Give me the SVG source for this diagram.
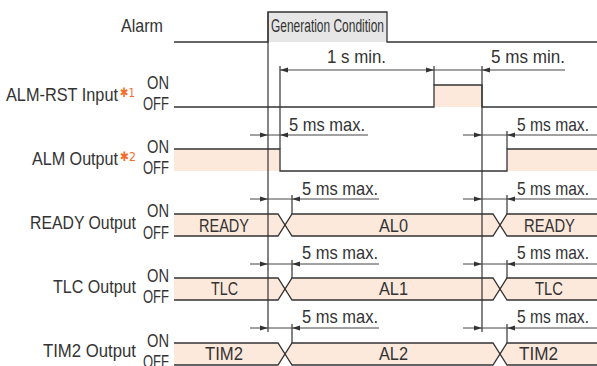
<svg xmlns="http://www.w3.org/2000/svg" width="597" height="366" viewBox="0 0 597 366">
<defs>
<path id="ar" d="M0,0 L-8,-2.4 L-8,2.4 Z" fill="#333"/>
<path id="al" d="M0,0 L8,-2.4 L8,2.4 Z" fill="#333"/>
</defs>
<style>
text{font-family:"Liberation Sans",Arial,"DejaVu Sans",sans-serif;font-size:19px;fill:#333}
.sig{fill:none;stroke:#333;stroke-width:1.3}
.pf{fill:#fde8dc;stroke:none}
.dim{stroke:#444;stroke-width:1;fill:none}
.ref{stroke:#333;stroke-width:1.2;fill:none}
.ast{fill:#f26d2a;font-size:13px;font-family:"DejaVu Sans","Liberation Sans",sans-serif}
</style>
<rect width="597" height="366" fill="#fff"/>

<g id="alarm">
<rect x="268" y="12" width="119" height="30" fill="#e6e6e6"/>
<path class="sig" d="M174,42 H268 V12 H387 V42 H597"/>
<text x="271" y="32" font-size="16" textLength="113" lengthAdjust="spacingAndGlyphs">Generation Condition</text>
<text x="121" y="32" textLength="42" lengthAdjust="spacingAndGlyphs">Alarm</text>
</g>

<g id="alm-rst">
<rect class="pf" x="434" y="85" width="48" height="22"/>
<path class="sig" d="M174,107 H434 V85 H482 V107 H597"/>
<text x="6" y="101" textLength="112" lengthAdjust="spacingAndGlyphs">ALM-RST Input</text>
<text class="ast" x="120" y="97" textLength="15" lengthAdjust="spacingAndGlyphs">✱1</text>
<text x="147" y="89" textLength="22" lengthAdjust="spacingAndGlyphs">ON</text>
<text x="143" y="110" textLength="26" lengthAdjust="spacingAndGlyphs">OFF</text>
</g>

<g id="alm-output">
<rect class="pf" x="174" y="149" width="106" height="22"/>
<rect class="pf" x="507" y="149" width="90" height="22"/>
<path class="sig" d="M174,149 H280 V171 H507 V149 H597"/>
<text x="32" y="165" textLength="86" lengthAdjust="spacingAndGlyphs">ALM Output</text>
<text class="ast" x="120" y="161" textLength="16" lengthAdjust="spacingAndGlyphs">✱2</text>
<text x="147" y="153" textLength="22" lengthAdjust="spacingAndGlyphs">ON</text>
<text x="143" y="174" textLength="26" lengthAdjust="spacingAndGlyphs">OFF</text>
</g>

<g id="ready-output">
<polygon class="pf" points="174,214 278,214 285,225 278,236 174,236"/>
<polygon class="pf" points="285,225 292,214 493,214 500,225 493,236 292,236"/>
<polygon class="pf" points="500,225 507,214 597,214 597,236 507,236"/>
<path class="sig" d="M174,214 H278 L292,236 H493 L507,214 H597"/>
<path class="sig" d="M174,236 H278 L292,214 H493 L507,236 H597"/>
<text x="30" y="229" textLength="106" lengthAdjust="spacingAndGlyphs">READY Output</text>
<text x="147" y="217" textLength="22" lengthAdjust="spacingAndGlyphs">ON</text>
<text x="143" y="239" textLength="26" lengthAdjust="spacingAndGlyphs">OFF</text>
<text x="199" y="232" textLength="50" lengthAdjust="spacingAndGlyphs">READY</text>
<text x="379" y="232" textLength="29" lengthAdjust="spacingAndGlyphs">AL0</text>
<text x="524" y="232" textLength="51" lengthAdjust="spacingAndGlyphs">READY</text>
</g>

<g id="tlc-output">
<polygon class="pf" points="174,278 278,278 285,289 278,300 174,300"/>
<polygon class="pf" points="285,289 292,278 493,278 500,289 493,300 292,300"/>
<polygon class="pf" points="500,289 507,278 597,278 597,300 507,300"/>
<path class="sig" d="M174,278 H278 L292,300 H493 L507,278 H597"/>
<path class="sig" d="M174,300 H278 L292,278 H493 L507,300 H597"/>
<text x="53" y="293" textLength="83" lengthAdjust="spacingAndGlyphs">TLC Output</text>
<text x="147" y="282" textLength="22" lengthAdjust="spacingAndGlyphs">ON</text>
<text x="143" y="303" textLength="26" lengthAdjust="spacingAndGlyphs">OFF</text>
<text x="211" y="295" textLength="27" lengthAdjust="spacingAndGlyphs">TLC</text>
<text x="379" y="295" textLength="29" lengthAdjust="spacingAndGlyphs">AL1</text>
<text x="535" y="295" textLength="28" lengthAdjust="spacingAndGlyphs">TLC</text>
</g>

<g id="tim2-output">
<polygon class="pf" points="174,343 278,343 285,354 278,365 174,365"/>
<polygon class="pf" points="285,354 292,343 493,343 500,354 493,365 292,365"/>
<polygon class="pf" points="500,354 507,343 597,343 597,365 507,365"/>
<path class="sig" d="M174,343 H278 L292,365 H493 L507,343 H597"/>
<path class="sig" d="M174,365 H278 L292,343 H493 L507,365 H597"/>
<text x="43" y="357" textLength="93" lengthAdjust="spacingAndGlyphs">TIM2 Output</text>
<text x="147" y="347" textLength="22" lengthAdjust="spacingAndGlyphs">ON</text>
<text x="143" y="368" textLength="26" lengthAdjust="spacingAndGlyphs">OFF</text>
<text x="205" y="360" textLength="38" lengthAdjust="spacingAndGlyphs">TIM2</text>
<text x="379" y="360" textLength="29" lengthAdjust="spacingAndGlyphs">AL2</text>
<text x="519" y="360" textLength="39" lengthAdjust="spacingAndGlyphs">TIM2</text>
</g>

<g id="connectors">
<line class="ref" x1="268" y1="12" x2="268" y2="332"/>
<line class="ref" x1="482" y1="66" x2="482" y2="332"/>
<line class="ref" x1="280" y1="66" x2="280" y2="149"/>
<line class="ref" x1="434" y1="66" x2="434" y2="85"/>
<line class="ref" x1="507" y1="131" x2="507" y2="149"/>
<line class="ref" x1="292" y1="195" x2="292" y2="214"/>
<line class="ref" x1="507" y1="195" x2="507" y2="214"/>
<line class="ref" x1="292" y1="260" x2="292" y2="278"/>
<line class="ref" x1="507" y1="260" x2="507" y2="278"/>
<line class="ref" x1="292" y1="324" x2="292" y2="343"/>
<line class="ref" x1="507" y1="324" x2="507" y2="343"/>

<line class="dim" x1="280" y1="70" x2="565" y2="70"/>
<use href="#al" x="280" y="70"/><use href="#ar" x="434" y="70"/><use href="#al" x="482" y="70"/>

<line class="dim" x1="250" y1="135" x2="368" y2="135"/>
<use href="#ar" x="268" y="135"/><use href="#al" x="280" y="135"/>
<line class="dim" x1="463" y1="135" x2="597" y2="135"/>
<use href="#ar" x="482" y="135"/><use href="#al" x="507" y="135"/>

<line class="dim" x1="250" y1="199" x2="379" y2="199"/>
<use href="#ar" x="268" y="199"/><use href="#al" x="292" y="199"/>
<line class="dim" x1="463" y1="199" x2="597" y2="199"/>
<use href="#ar" x="482" y="199"/><use href="#al" x="507" y="199"/>

<line class="dim" x1="250" y1="264" x2="379" y2="264"/>
<use href="#ar" x="268" y="264"/><use href="#al" x="292" y="264"/>
<line class="dim" x1="463" y1="264" x2="597" y2="264"/>
<use href="#ar" x="482" y="264"/><use href="#al" x="507" y="264"/>

<line class="dim" x1="250" y1="328" x2="379" y2="328"/>
<use href="#ar" x="268" y="328"/><use href="#al" x="292" y="328"/>
<line class="dim" x1="463" y1="328" x2="597" y2="328"/>
<use href="#ar" x="482" y="328"/><use href="#al" x="507" y="328"/>

<text x="327" y="63" textLength="59" lengthAdjust="spacingAndGlyphs">1 s min.</text>
<text x="491" y="63" textLength="74" lengthAdjust="spacingAndGlyphs">5 ms min.</text>
<text x="289" y="131" textLength="76" lengthAdjust="spacingAndGlyphs">5 ms max.</text>
<text x="517" y="131" textLength="72" lengthAdjust="spacingAndGlyphs">5 ms max.</text>
<text x="302" y="195" textLength="76" lengthAdjust="spacingAndGlyphs">5 ms max.</text>
<text x="517" y="195" textLength="72" lengthAdjust="spacingAndGlyphs">5 ms max.</text>
<text x="302" y="259" textLength="76" lengthAdjust="spacingAndGlyphs">5 ms max.</text>
<text x="517" y="259" textLength="72" lengthAdjust="spacingAndGlyphs">5 ms max.</text>
<text x="302" y="323" textLength="76" lengthAdjust="spacingAndGlyphs">5 ms max.</text>
<text x="517" y="323" textLength="72" lengthAdjust="spacingAndGlyphs">5 ms max.</text>
</g>
</svg>
